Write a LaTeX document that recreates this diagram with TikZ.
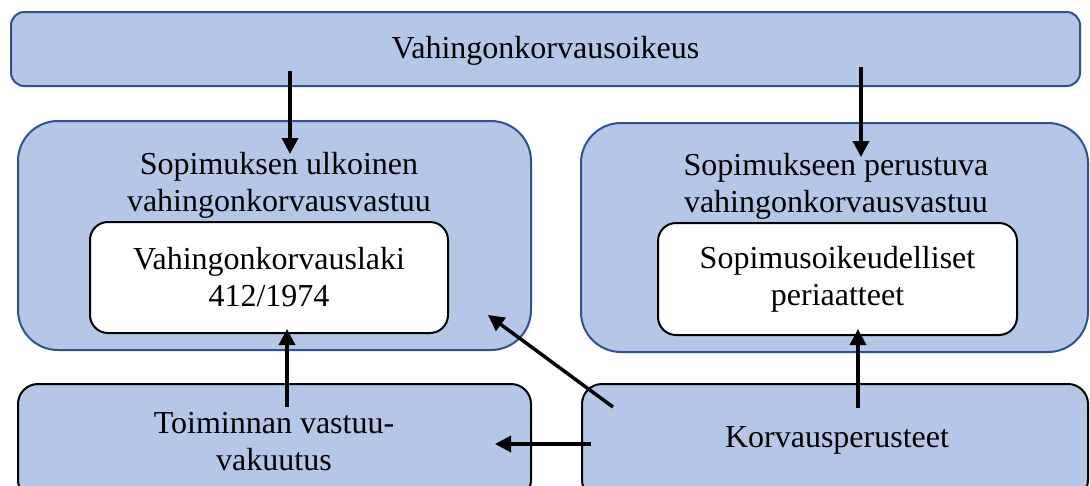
\documentclass[tikz,border=0pt]{standalone}
\usepackage{fontspec}
\setmainfont{Liberation Serif}
\usetikzlibrary{arrows.meta}
\definecolor{boxfill}{HTML}{B4C7E7}
\definecolor{boxline}{HTML}{2F528F}
\tikzset{
  bluebox/.style={draw=boxline, fill=boxfill, line width=1.5pt, inner sep=0pt},
  blackbox/.style={draw=black, fill=boxfill, line width=1.5pt, inner sep=0pt},
  whitebox/.style={draw=black, fill=white, line width=1.5pt, inner sep=0pt, rounded corners=13.5pt, align=center, font=\bigfont},
  lbl/.style={align=center, font=\bigfont, inner sep=0pt},
  arr/.style={line width=2.6pt, -{Triangle[width=12pt,length=12pt]}}
}
\newcommand{\bigfont}{\fontsize{24}{27.75}\selectfont}
\begin{document}
\begin{tikzpicture}[x=0.75pt,y=-0.75pt]
\useasboundingbox (0,0) rectangle (1090,486);
% boxes
\node[bluebox, rounded corners=10pt, minimum width=801.75pt, minimum height=55.5pt] (top) at (545.5,49) {};
\node[bluebox, rounded corners=30pt, minimum width=384.75pt, minimum height=171.75pt] (left) at (274.5,235.5) {};
\node[bluebox, rounded corners=30pt, minimum width=380.25pt, minimum height=171.75pt] (right) at (834.5,237.5) {};
\node[whitebox, minimum width=268.5pt, minimum height=83.25pt] (lawbox) at (269,277.5) {Vahingonkorvauslaki\\412/1974};
\node[whitebox, minimum width=269.25pt, minimum height=84pt] (principles) at (837.5,279) {Sopimusoikeudelliset\\periaatteet};
\node[blackbox, rounded corners=15pt, minimum width=384.75pt, minimum height=87pt] (insurance) at (274.5,442) {};
\node[blackbox, rounded corners=15pt, minimum width=379.5pt, minimum height=87pt] (grounds) at (835,442) {};
% labels
\node[lbl] (toplbl) at (545.5,51) {Vahingonkorvausoikeus};
\node[lbl] (leftlbl) at (279,185) {Sopimuksen ulkoinen\\vahingonkorvausvastuu};
\node[lbl] (rightlbl) at (836,186) {Sopimukseen perustuva\\vahingonkorvausvastuu};
\node[lbl] (inslbl) at (274,442) {Toiminnan vastuu-\\vakuutus};
\node[lbl] (grlbl) at (837,440) {Korvausperusteet};
% arrow end points
\coordinate (a1s) at (290,71);   \coordinate (a1e) at (290,154);
\coordinate (a2s) at (861,67);   \coordinate (a2e) at (861,157);
\coordinate (a3s) at (287,407);  \coordinate (a3e) at (287,329);
\coordinate (a4s) at (858,408);  \coordinate (a4e) at (858,329);
\coordinate (a5s) at (613,407);  \coordinate (a5e) at (488,315);
\coordinate (a6s) at (591,444);  \coordinate (a6e) at (495,444);
% connectors
\draw[arr] (a1s) -- (a1e);
\draw[arr] (a2s) -- (a2e);
\draw[arr] (a3s) -- (a3e);
\draw[arr] (a4s) -- (a4e);
\draw[arr] (a5s) -- (a5e);
\draw[arr] (a6s) -- (a6e);
\end{tikzpicture}
\end{document}
